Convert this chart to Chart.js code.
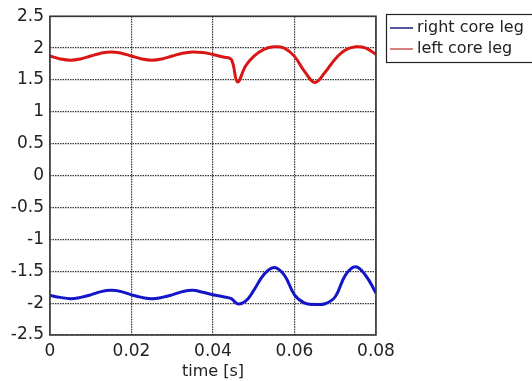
<!DOCTYPE html>
<html>
<head>
<meta charset="utf-8">
<script src="https://cdn.jsdelivr.net/npm/chart.js@4"></script>
<style>
  html, body { margin: 0; padding: 0; background: #fff; }
  #wrap { width: 532px; height: 381px; }
</style>
</head>
<body>
<div id="wrap"><canvas id="coreChart" width="532" height="381"></canvas></div>
<script>
// time samples in seconds
const times = [0, 0.0025, 0.005, 0.0075, 0.01, 0.0125, 0.015, 0.0175, 0.02, 0.0225, 0.025, 0.0275,
  0.03, 0.0325, 0.035, 0.0375, 0.04, 0.0425, 0.0445, 0.046, 0.048, 0.05, 0.0525, 0.055, 0.0575,
  0.06, 0.0625, 0.065, 0.0675, 0.07, 0.0725, 0.075, 0.0775, 0.08];

const rightLeg = [-1.88, -1.91, -1.93, -1.91, -1.87, -1.82, -1.80, -1.82, -1.87, -1.91, -1.93, -1.91,
  -1.87, -1.82, -1.80, -1.83, -1.87, -1.90, -1.93, -2.01, -1.97, -1.80, -1.55, -1.44, -1.56,
  -1.87, -2.0, -2.02, -2.01, -1.9, -1.56, -1.43, -1.57, -1.84];

const leftLeg = [1.875, 1.83, 1.81, 1.83, 1.875, 1.92, 1.94, 1.92, 1.875, 1.83, 1.81, 1.83,
  1.875, 1.92, 1.94, 1.93, 1.90, 1.86, 1.82, 1.47, 1.72, 1.87, 1.98, 2.02, 2.0,
  1.87, 1.63, 1.46, 1.62, 1.83, 1.97, 2.02, 2.0, 1.9];

const xTicks = [0, 0.02, 0.04, 0.06, 0.08];
const yTicks = [-2.5, -2, -1.5, -1, -0.5, 0, 0.5, 1, 1.5, 2, 2.5];

const FONT = "'DejaVu Sans', sans-serif";

// frame around the plot + boxed legend (like the original figure)
const frameLegend = {
  id: 'frameLegend',
  afterDraw(chart) {
    const { ctx, chartArea: a } = chart;
    ctx.save();
    ctx.strokeStyle = '#333';
    ctx.lineWidth = 1.5;
    ctx.strokeRect(a.left, a.top, a.right - a.left, a.bottom - a.top);

    // legend box
    ctx.lineWidth = 1.2;
    ctx.strokeStyle = '#222';
    ctx.strokeRect(386.5, 14.5, 150, 48);
    const items = [
      { label: chart.data.datasets[0].label, color: '#2a2a85', y: 28 },
      { label: chart.data.datasets[1].label, color: '#d06060', y: 49 }
    ];
    ctx.font = '16px ' + FONT;
    ctx.textBaseline = 'middle';
    ctx.fillStyle = '#222';
    items.forEach(it => {
      ctx.strokeStyle = it.color;
      ctx.lineWidth = 1.6;
      ctx.beginPath();
      ctx.moveTo(390, it.y);
      ctx.lineTo(413, it.y);
      ctx.stroke();
      ctx.fillText(it.label, 417, it.y);
    });
    ctx.restore();
  }
};

new Chart(document.getElementById('coreChart'), {
  type: 'line',
  data: {
    datasets: [{
      label: 'right core leg',
      data: times.map((t, i) => ({ x: t, y: rightLeg[i] })),
      borderColor: '#1515c8',
      borderWidth: 3,
      pointRadius: 0,
      tension: 0.4
    }, {
      label: 'left core leg',
      data: times.map((t, i) => ({ x: t, y: leftLeg[i] })),
      borderColor: '#d91515',
      borderWidth: 3,
      pointRadius: 0,
      tension: 0.4
    }]
  },
  options: {
    responsive: false,
    animation: false,
    layout: { padding: { top: 15, right: 156, left: 0, bottom: 0 } },
    plugins: { legend: { display: false }, tooltip: { enabled: false } },
    scales: {
      x: {
        type: 'linear',
        min: 0,
        max: 0.08,
        afterBuildTicks: axis => { axis.ticks = xTicks.map(v => ({ value: v })); },
        afterFit: axis => { axis.height = 46; },
        ticks: {
          color: '#222',
          font: { family: FONT, size: 17 },
          padding: 6,
          maxRotation: 0,
          callback: v => String(v)
        },
        grid: { color: '#333', lineWidth: 1.2, drawTicks: false },
        border: { display: false, dash: [1.5, 1] },
        title: {
          display: true,
          text: 'time [s]',
          color: '#222',
          font: { family: FONT, size: 16 },
          padding: { top: 0, bottom: 0 }
        }
      },
      y: {
        min: -2.5,
        max: 2.5,
        afterBuildTicks: axis => { axis.ticks = yTicks.map(v => ({ value: v })); },
        afterFit: axis => { axis.width = 50; },
        ticks: {
          color: '#222',
          font: { family: FONT, size: 17 },
          padding: 6,
          callback: v => String(v)
        },
        grid: { color: '#333', lineWidth: 1.2, drawTicks: false },
        border: { display: false, dash: [1.5, 1] }
      }
    }
  },
  plugins: [frameLegend]
});
</script>
</body>
</html>
